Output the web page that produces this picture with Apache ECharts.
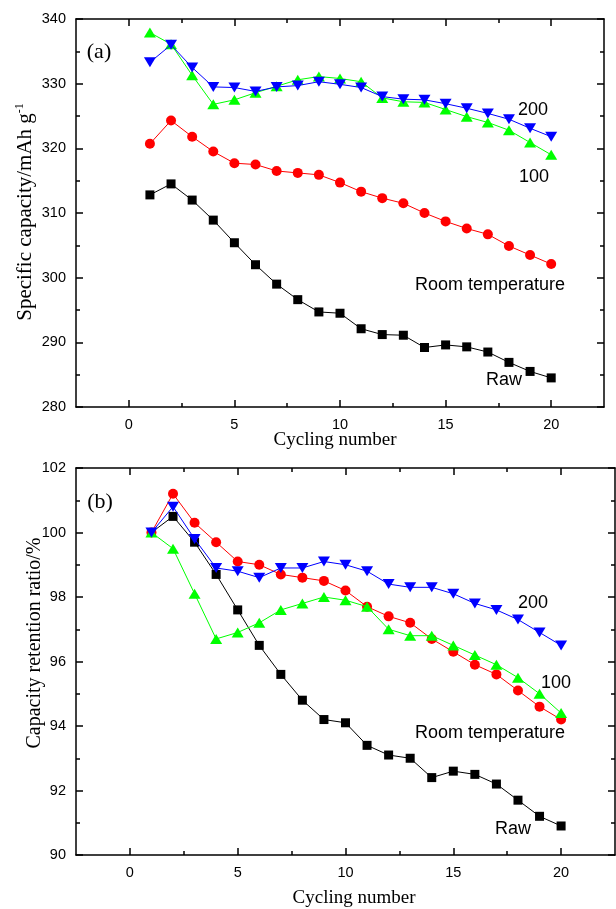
<!DOCTYPE html>
<html>
<head>
<meta charset="utf-8">
<script src="https://cdn.jsdelivr.net/npm/echarts@6/dist/echarts.min.js"></script>
<style>
html,body{margin:0;padding:0;background:#fff;}
#chart{width:616px;height:909px;}
</style>
</head>
<body>
<div id="chart"></div>
<script>
// ---- data ----
var cycles = [1,2,3,4,5,6,7,8,9,10,11,12,13,14,15,16,17,18,19,20];

// (a) specific capacity, mAh g-1
var capRaw  = [312.8,314.5,312.0,308.9,305.4,302.0,299.0,296.6,294.7,294.5,292.1,291.2,291.1,289.2,289.6,289.3,288.5,286.9,285.5,284.5];
var capRoom = [320.7,324.3,321.8,319.5,317.7,317.5,316.5,316.2,315.9,314.7,313.3,312.3,311.5,310.0,308.7,307.6,306.7,304.9,303.5,302.1];
var cap100  = [337.9,336.1,331.3,326.8,327.5,328.6,329.6,330.6,331.1,330.8,330.3,327.8,327.2,327.1,326.0,324.9,324.0,322.8,320.9,319.0];
var cap200  = [333.3,336.0,332.5,329.5,329.4,328.8,329.5,329.7,330.3,329.9,329.4,328.0,327.6,327.5,326.9,326.2,325.4,324.5,323.1,321.8];

// (b) capacity retention ratio, %
var retRaw  = [100.0,100.5,99.7,98.7,97.6,96.5,95.6,94.8,94.2,94.1,93.4,93.1,93.0,92.4,92.6,92.5,92.2,91.7,91.2,90.9];
var retRoom = [100.0,101.2,100.3,99.7,99.1,99.0,98.7,98.6,98.5,98.2,97.7,97.4,97.2,96.7,96.3,95.9,95.6,95.1,94.6,94.2];
var ret100  = [100.0,99.5,98.1,96.7,96.9,97.2,97.6,97.8,98.0,97.9,97.7,97.0,96.8,96.8,96.5,96.2,95.9,95.5,95.0,94.4];
var ret200  = [100.0,100.8,99.8,98.9,98.8,98.6,98.9,98.9,99.1,99.0,98.8,98.4,98.3,98.3,98.1,97.8,97.6,97.3,96.9,96.5];

var xMajorTicks = [0,5,10,15,20];
var xMinorTicks = [2.5,7.5,12.5,17.5];
var seriesNames = ['Raw','Room temperature','100','200'];

// ---- chart ----
var SANS = 'Liberation Sans, Arial, sans-serif';
var SERIF = 'Liberation Serif, Times New Roman, serif';
var lineStyleAxis = {color:'#000', width:1.5};

function xAxes(grid){
  return [
    {type:'value', gridIndex:grid, position:'bottom', min:-2.5, max:22.5,
     axisLine:{show:true, onZero:false, lineStyle:lineStyleAxis},
     axisTick:{show:true, inside:true, length:7, customValues:xMajorTicks, lineStyle:{color:'#000', width:1.5}},
     axisLabel:{show:true, customValues:xMajorTicks, color:'#000', fontFamily:SANS, fontSize:14.5, margin:10},
     splitLine:{show:false}},
    {type:'value', gridIndex:grid, position:'bottom', min:-2.5, max:22.5,
     axisLine:{show:false},
     axisTick:{show:true, inside:true, length:4, customValues:xMinorTicks, lineStyle:{color:'#000', width:1.5}},
     axisLabel:{show:false}, splitLine:{show:false}},
    {type:'value', gridIndex:grid, position:'top', min:-2.5, max:22.5,
     axisLine:{show:true, onZero:false, lineStyle:lineStyleAxis},
     axisTick:{show:true, inside:true, length:7, customValues:xMajorTicks, lineStyle:{color:'#000', width:1.5}},
     axisLabel:{show:false}, splitLine:{show:false}},
    {type:'value', gridIndex:grid, position:'top', min:-2.5, max:22.5,
     axisLine:{show:false},
     axisTick:{show:true, inside:true, length:4, customValues:xMinorTicks, lineStyle:{color:'#000', width:1.5}},
     axisLabel:{show:false}, splitLine:{show:false}}
  ];
}
function yAxes(grid, min, max, interval){
  return [
    {type:'value', gridIndex:grid, position:'left', min:min, max:max, interval:interval,
     axisLine:{show:true, onZero:false, lineStyle:lineStyleAxis},
     axisTick:{show:true, inside:true, length:7, lineStyle:{color:'#000', width:1.5}},
     minorTick:{show:true, splitNumber:2, length:4, lineStyle:{color:'#000', width:1.5}},
     axisLabel:{color:'#000', fontFamily:SANS, fontSize:14.5, margin:10},
     splitLine:{show:false}},
    {type:'value', gridIndex:grid, position:'right', min:min, max:max, interval:interval,
     axisLine:{show:true, onZero:false, lineStyle:lineStyleAxis},
     axisTick:{show:true, inside:true, length:7, lineStyle:{color:'#000', width:1.5}},
     minorTick:{show:true, splitNumber:2, length:4, lineStyle:{color:'#000', width:1.5}},
     axisLabel:{show:false}, splitLine:{show:false}}
  ];
}
function pairs(vals){ return cycles.map(function(c,i){ return [c, vals[i]]; }); }

var styles = [
  {color:'#000000', symbol:'rect', size:9, rotate:0},
  {color:'#ff0000', symbol:'circle', size:10, rotate:0},
  {color:'#00ff00', symbol:'triangle', size:[12,10], rotate:0},
  {color:'#0000ff', symbol:'triangle', size:[12,10], rotate:180}
];
function makeSeries(xi, yi, sets){
  return sets.map(function(vals, k){
    var s = styles[k];
    return {type:'line', name:seriesNames[k], xAxisIndex:xi, yAxisIndex:yi,
      data:pairs(vals), symbol:s.symbol, symbolSize:s.size, symbolRotate:s.rotate,
      showSymbol:true, animation:false,
      itemStyle:{color:s.color}, lineStyle:{color:s.color, width:1}, z:2+k};
  });
}

function txt(t, x, y, font, extra){
  var st = {text:t, x:x, y:y, font:font, fill:'#000', align:'center', verticalAlign:'middle',
            textAlign:'center', textVerticalAlign:'middle'};
  if (extra) for (var k in extra) st[k]=extra[k];
  return {type:'text', style:st, z:100};
}

var option = {
  animation:false,
  backgroundColor:'#fff',
  grid:[
    {left:76, top:19, width:528, height:388},
    {left:76, top:468, width:539, height:387}
  ],
  xAxis: xAxes(0).concat(xAxes(1)),
  yAxis: yAxes(0, 280, 340, 10).concat(yAxes(1, 90, 102, 2)),
  series: makeSeries(0,0,[capRaw,capRoom,cap100,cap200]).concat(makeSeries(4,2,[retRaw,retRoom,ret100,ret200])),
  graphic:[
    txt('(a)', 99, 52, '22px ' + SERIF),
    txt('(b)', 100, 502, '22px ' + SERIF),
    txt('200', 533, 110, '18px ' + SANS),
    txt('100', 534, 177, '18px ' + SANS),
    txt('Room temperature', 490, 285, '18px ' + SANS),
    txt('Raw', 504, 380, '18px ' + SANS),
    txt('200', 533, 603, '18px ' + SANS),
    txt('100', 556, 683, '18px ' + SANS),
    txt('Room temperature', 490, 733, '18px ' + SANS),
    txt('Raw', 513, 829, '18px ' + SANS),
    txt('Cycling number', 335, 440, '19px ' + SERIF),
    txt('Cycling number', 354, 898, '19px ' + SERIF),
    {type:'text', x:25, y:212, rotation:Math.PI/2, z:100,
     style:{text:'Specific capacity/mAh g{sup|-1}', x:0, y:0, font:'21px ' + SERIF, fill:'#000',
            align:'center', verticalAlign:'middle',
            rich:{sup:{fontSize:12, fontFamily:SERIF, verticalAlign:'top', padding:[0,0,10,0], fill:'#000'}}}},
    {type:'text', x:35, y:643, rotation:Math.PI/2, z:100,
     style:{text:'Capacity retention ratio/%', x:0, y:0, font:'20px ' + SERIF, fill:'#000',
            align:'center', verticalAlign:'middle'}}
  ]
};

var chart = echarts.init(document.getElementById('chart'), null, {renderer:'canvas'});
chart.setOption(option);
</script>
</body>
</html>
